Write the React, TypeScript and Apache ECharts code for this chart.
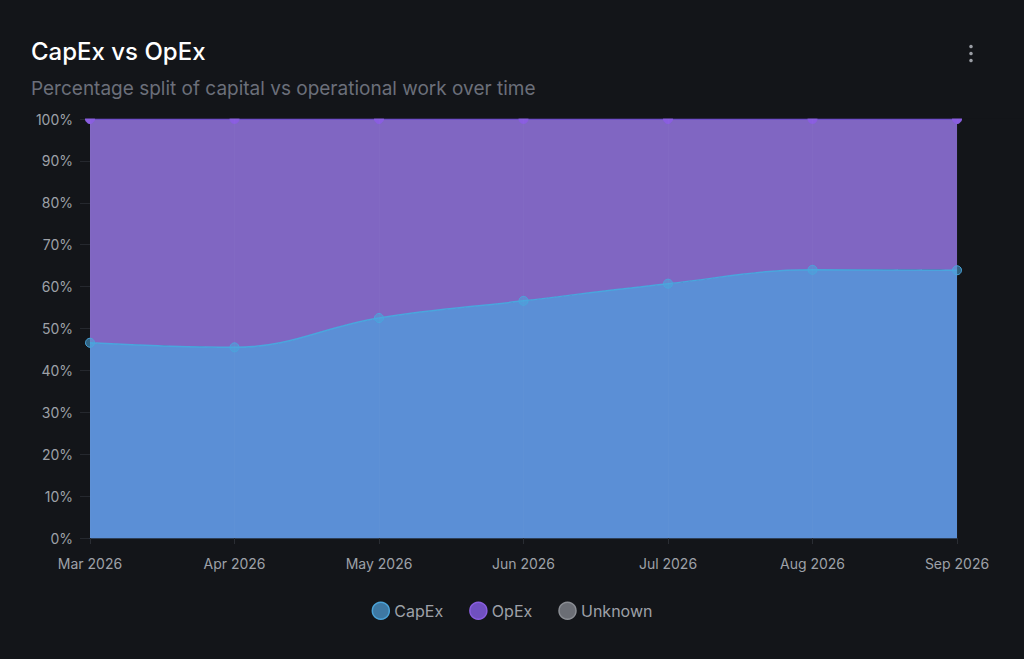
import React, { useEffect, useRef } from "react";
import * as echarts from "echarts";

const categories = ["Mar 2026", "Apr 2026", "May 2026", "Jun 2026", "Jul 2026", "Aug 2026", "Sep 2026"];
const capex = [46.6, 45.5, 52.5, 56.6, 60.7, 64.0, 63.9];
const opex = [53.4, 54.5, 47.5, 43.4, 39.3, 36.0, 36.1];
const unknown = [0, 0, 0, 0, 0, 0, 0];

export default function App() {
  const ref = useRef<HTMLDivElement>(null);
  useEffect(() => {
    if (!ref.current) return;
    const chart = echarts.init(ref.current, undefined, { renderer: "svg" });
    const font = "Inter, 'Noto Sans', sans-serif";
    chart.setOption({
      animation: false,
      backgroundColor: "#131519",
      textStyle: { fontFamily: font },
      title: {
        text: "CapEx vs OpEx",
        subtext: "Percentage split of capital vs operational work over time",
        left: 31,
        top: 39,
        padding: 0,
        itemGap: 16,
        z: 20,
        textStyle: { color: "#ffffff", fontSize: 24, fontWeight: 500, fontFamily: font },
        subtextStyle: { color: "#6b6f7a", fontSize: 19, fontFamily: font },
      },
      graphic: [
        { type: "rect", z: 10, shape: { x: 80, y: 0, width: 944, height: 118.5 }, style: { fill: "#131519" } },
        { type: "circle", z: 20, shape: { cx: 971, cy: 46.5, r: 1.8 }, style: { fill: "#9a9da4" } },
        { type: "circle", z: 20, shape: { cx: 971, cy: 53.5, r: 1.8 }, style: { fill: "#9a9da4" } },
        { type: "circle", z: 20, shape: { cx: 971, cy: 60.5, r: 1.8 }, style: { fill: "#9a9da4" } },
      ],
      legend: {
        bottom: 34,
        left: "center",
        icon: "circle",
        itemWidth: 17,
        itemHeight: 17,
        itemGap: 26,
        textStyle: { color: "#9ea1a8", fontSize: 16, fontFamily: font },
        data: [
          { name: "CapEx", itemStyle: { color: "#3e78a3", borderColor: "#4ba3d8", borderWidth: 1.5 } },
          { name: "OpEx", itemStyle: { color: "#7050c0", borderColor: "#8a5ee0", borderWidth: 1.5 } },
          { name: "Unknown", itemStyle: { color: "#6b6e75", borderColor: "#8b8e94", borderWidth: 1.5 } },
        ],
      },
      grid: { left: 90, right: 67, top: 119, bottom: 121 },
      xAxis: {
        type: "category",
        boundaryGap: false,
        data: categories,
        z: 3,
        axisLine: { lineStyle: { color: "#2e3f57" } },
        axisTick: { show: true, length: 6, lineStyle: { color: "#2a2d33" } },
        axisLabel: { color: "#9ea1a8", fontSize: 14, margin: 18, fontFamily: font },
        splitLine: { show: true, lineStyle: { color: "rgba(255,255,255,0.02)" } },
      },
      yAxis: {
        type: "value",
        min: 0,
        max: 100,
        interval: 10,
        axisLine: { show: true, lineStyle: { color: "#2a2d33" } },
        axisTick: { show: true, length: 10, lineStyle: { color: "#25282e" } },
        axisLabel: { color: "#9ea1a8", fontSize: 14, margin: 17, formatter: "{value}%", fontFamily: font },
        splitLine: { show: false },
      },
      series: [
        {
          name: "CapEx",
          type: "line",
          stack: "total",
          smooth: 0.4,
          data: capex,
          symbol: "circle",
          symbolSize: 9,
          lineStyle: { color: "#4aa6dd", width: 1.5 },
          itemStyle: { color: "rgba(75,166,221,0.55)", borderColor: "#4aa6dd", borderWidth: 1 },
          areaStyle: { color: "#5b8fd6", opacity: 1 },
          z: 2,
        },
        {
          name: "OpEx",
          type: "line",
          stack: "total",
          smooth: 0.4,
          data: opex,
          symbol: "circle",
          symbolSize: 9,
          lineStyle: { color: "#6a48c8", width: 1.5 },
          itemStyle: { color: "#8a5ee0", borderColor: "#8a5ee0" },
          areaStyle: { color: "#8066c2", opacity: 1 },
          z: 1,
        },
        {
          name: "Unknown",
          type: "line",
          stack: "total",
          smooth: 0.4,
          data: unknown,
          showSymbol: false,
          lineStyle: { width: 0 },
          itemStyle: { color: "#6b6e75" },
          z: 0,
        },
      ],
    });
    return () => chart.dispose();
  }, []);
  return (
    <div
      ref={ref}
      style={{ position: "fixed", left: 0, top: 0, width: 1024, height: 659, background: "#131519" }}
    />
  );
}
